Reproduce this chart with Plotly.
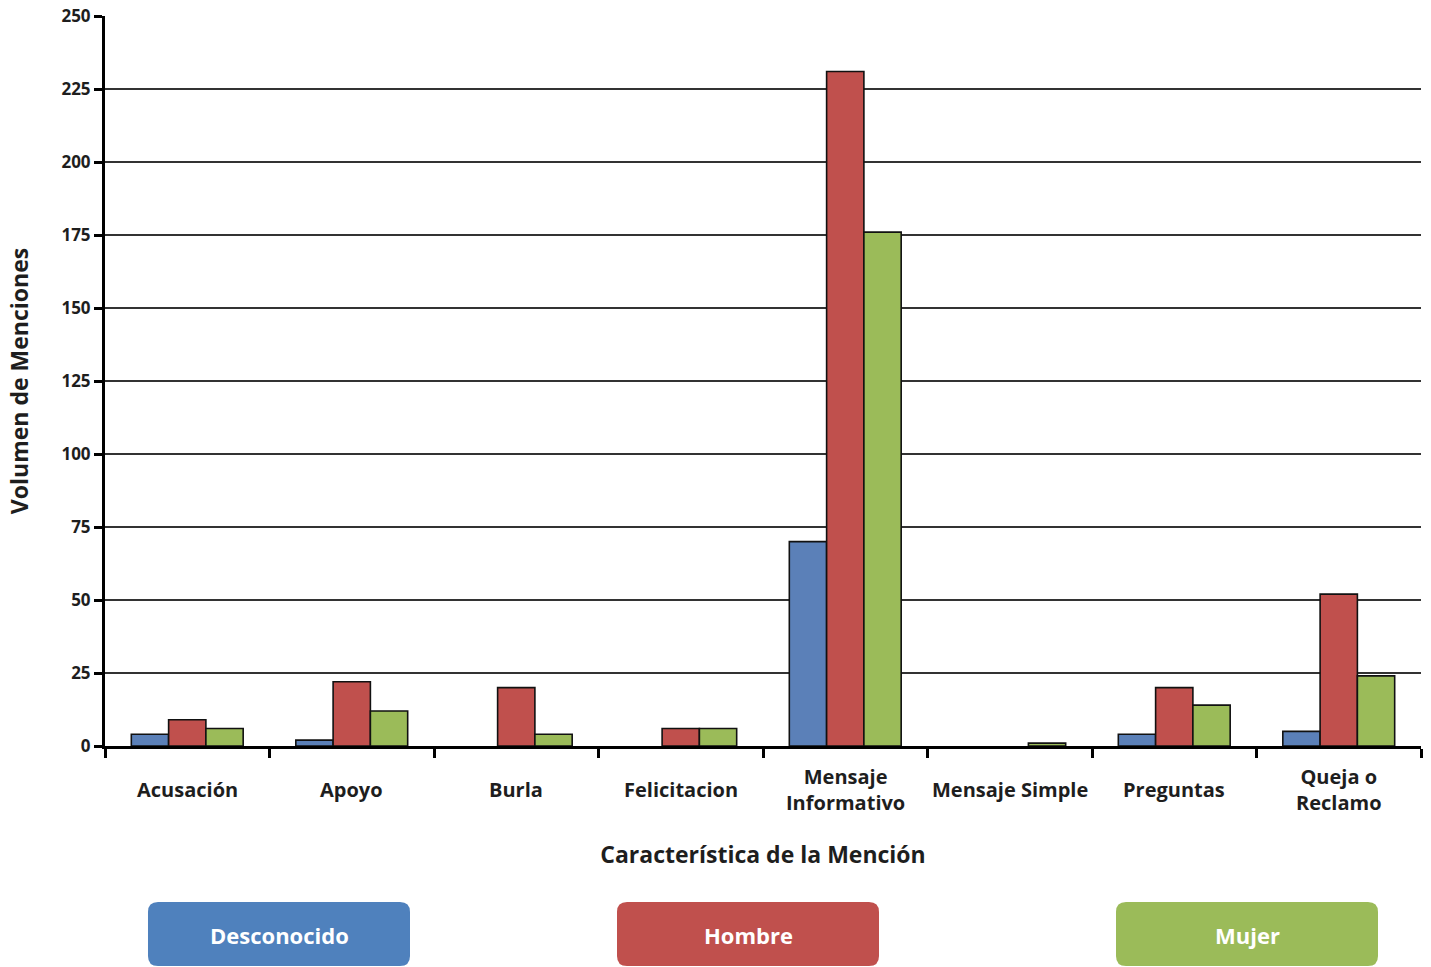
import plotly.graph_objects as go

categories = ["Acusación", "Apoyo", "Burla", "Felicitacion", "Mensaje Informativo",
              "Mensaje Simple", "Preguntas", "Queja o Reclamo"]
category_labels = ["Acusación", "Apoyo", "Burla", "Felicitacion", "Mensaje<br>Informativo",
                   "Mensaje Simple", "Preguntas", "Queja o<br>Reclamo"]
series_names = ["Desconocido", "Hombre", "Mujer"]
desconocido = [4, 2, 0, 0, 70, 0, 4, 5]
hombre = [9, 22, 20, 6, 231, 0, 20, 52]
mujer = [6, 12, 4, 6, 176, 1, 14, 24]
y_ticks = [0, 25, 50, 75, 100, 125, 150, 175, 200, 225, 250]

bar_colors = ["#5B80B8", "#C0504D", "#9BBB59"]
legend_colors = ["#4F81BD", "#C0504D", "#9BBB59"]

W, H = 1431, 967
L, R, T, B = 105, 1421, 16, 746
FONT = "Open Sans"
TXT = "#1E1E1E"


def px_x(px):
    return (px - L) / (R - L)


def px_y(py):
    return (B - py) / (B - T)


def rrect(x0, y0, x1, y1, r):
    pts = [
        ("M", [(x0 + r, y0)]),
        ("L", [(x1 - r, y0)]),
        ("Q", [(x1, y0), (x1, y0 + r)]),
        ("L", [(x1, y1 - r)]),
        ("Q", [(x1, y1), (x1 - r, y1)]),
        ("L", [(x0 + r, y1)]),
        ("Q", [(x0, y1), (x0, y1 - r)]),
        ("L", [(x0, y0 + r)]),
        ("Q", [(x0, y0), (x0 + r, y0)]),
    ]
    s = ""
    for cmd, ps in pts:
        s += cmd + " " + " ".join(f"{px_x(a):.5f},{px_y(b):.5f}" for a, b in ps) + " "
    return s + "Z"


fig = go.Figure()
for name, vals, col in zip(series_names, [desconocido, hombre, mujer], bar_colors):
    fig.add_trace(go.Bar(
        x=categories, y=vals, name=name,
        marker=dict(color=col,
                    line=dict(color="#111111", width=[1.6 if v > 0 else 0 for v in vals])),
    ))

fig.update_layout(
    width=W, height=H,
    margin=dict(l=L, r=W - R, t=T, b=H - B, autoexpand=False),
    paper_bgcolor="white", plot_bgcolor="white",
    barmode="group", bargap=0.32, bargroupgap=0,
    showlegend=False,
    font=dict(family=FONT, color=TXT),
)

fig.update_xaxes(
    type="category", categoryorder="array", categoryarray=categories,
    showticklabels=False, showgrid=False,
    ticks="outside", tickson="boundaries", ticklen=9, tickwidth=2.5, tickcolor="black",
    showline=True, linecolor="black", linewidth=3,
    title=dict(text="Característica de la Mención",
               font=dict(family=FONT, size=23, weight="bold", color=TXT),
               standoff=99),
)
fig.update_yaxes(
    range=[0, 250], tickvals=y_ticks, ticklabeloverflow="allow",
    ticks="outside", ticklen=8, tickwidth=2.5, tickcolor="black",
    tickfont=dict(family=FONT, size=17, weight="bold", color=TXT),
    showline=True, linecolor="black", linewidth=3,
    showgrid=True, gridcolor="#333333", gridwidth=1.5,
    zeroline=False,
    title=dict(text="Volumen de Menciones",
               font=dict(family=FONT, size=23, weight="bold", color=TXT),
               standoff=27),
)

annotations = []
for cat, lab in zip(categories, category_labels):
    annotations.append(dict(
        x=cat, xref="x", y=px_y(789), yref="paper", text=lab, showarrow=False,
        xanchor="center", yanchor="middle", align="center",
        font=dict(family=FONT, size=20, weight="bold", color=TXT),
    ))

legend_boxes = [(148, 410), (617, 879), (1116, 1378)]
shapes = []
for (x0, x1), name, col in zip(legend_boxes, series_names, legend_colors):
    shapes.append(dict(type="path", xref="paper", yref="paper",
                       path=rrect(x0, 902, x1, 966, 10),
                       fillcolor=col, line=dict(width=0), layer="above"))
    annotations.append(dict(
        x=px_x((x0 + x1) / 2), y=px_y(935), xref="paper", yref="paper",
        text=name, showarrow=False, xanchor="center", yanchor="middle",
        font=dict(family=FONT, size=22, weight="bold", color="white"),
    ))

fig.update_layout(shapes=shapes, annotations=annotations)
fig.write_html("out.html", config={"displayModeBar": False},
               post_script="document.body.style.margin='0';")
